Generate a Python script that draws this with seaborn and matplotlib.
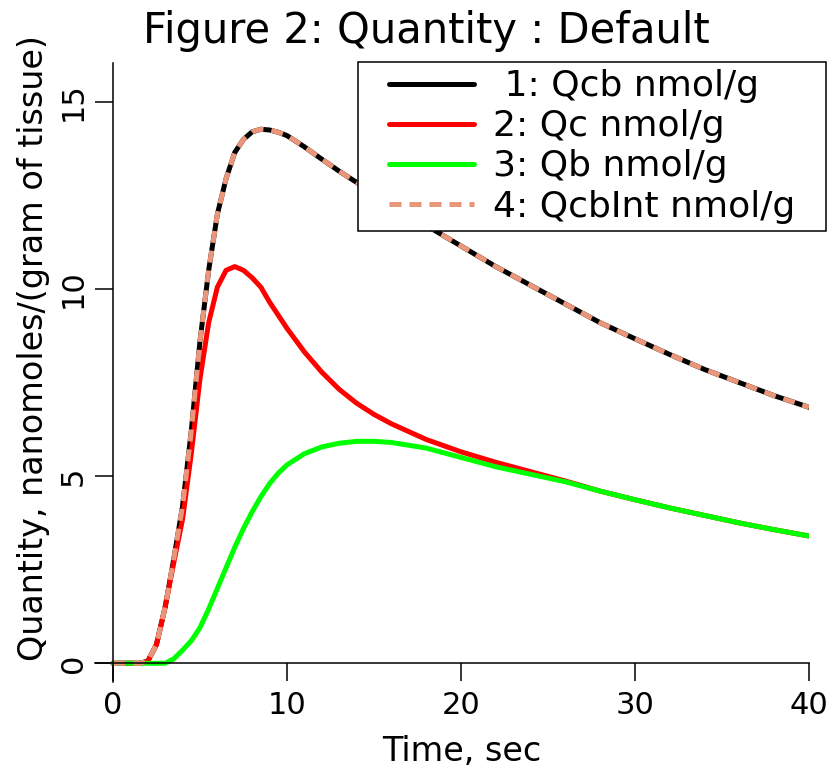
import matplotlib
matplotlib.use("Agg")
import matplotlib.pyplot as plt
from matplotlib.lines import Line2D
from matplotlib.legend_handler import HandlerLine2D
import seaborn as sns
import pandas as pd

# time grid (sec)
time_sec = [0, 1, 1.5, 2, 2.5, 3, 3.5, 4, 4.5, 5, 5.5, 6, 6.5, 7, 7.5, 8, 8.5, 9, 9.5,
            10, 11, 12, 13, 14, 15, 16, 18, 20, 22, 24, 26, 28, 30, 32, 34, 36, 38, 40]

# nmol/g
qcb = [0, 0, 0, 0.05, 0.5, 1.5, 2.8, 4.2, 6.2, 8.6, 10.5, 12.0, 12.95, 13.65, 14.0, 14.2, 14.27, 14.25, 14.19,
       14.1, 13.8, 13.47, 13.15, 12.85, 12.55, 12.25, 11.7, 11.15, 10.6, 10.1, 9.6, 9.1, 8.67, 8.25, 7.85, 7.5, 7.15, 6.84]
qc = [0, 0, 0, 0.05, 0.5, 1.5, 2.7, 3.85, 5.6, 7.6, 9.1, 10.05, 10.5, 10.6, 10.5, 10.3, 10.05, 9.65, 9.3,
      8.95, 8.32, 7.78, 7.32, 6.95, 6.65, 6.4, 5.98, 5.65, 5.37, 5.12, 4.87, 4.6, 4.37, 4.15, 3.95, 3.75, 3.57, 3.4]
qb = [0, 0, 0, 0, 0, 0, 0.12, 0.35, 0.6, 0.95, 1.45, 2.0, 2.55, 3.1, 3.6, 4.05, 4.45, 4.8, 5.08,
      5.3, 5.6, 5.78, 5.88, 5.93, 5.93, 5.9, 5.75, 5.5, 5.25, 5.05, 4.85, 4.6, 4.37, 4.15, 3.95, 3.75, 3.57, 3.4]
qcbint = qcb

series_labels = [" 1: Qcb nmol/g  ", "2: Qc nmol/g  ", "3: Qb nmol/g  ", "4: QcbInt nmol/g  "]
series_colors = ["#000000", "#ff0000", "#00ff00", "#e9967a"]

sns.set_theme(style="white")
plt.rcParams['font.family'] = ['DejaVu Sans']

df = pd.DataFrame({"t": time_sec, "qcb": qcb, "qc": qc, "qb": qb, "qcbint": qcbint})

fig = plt.figure(figsize=(8.3, 7.74), dpi=100)
ax = fig.add_axes([0.1145, 0.1189, 0.8602, 0.7997])

lw = 3.6
sns.lineplot(data=df, x="t", y="qcb", color=series_colors[0], linewidth=lw, label=series_labels[0], ax=ax)
sns.lineplot(data=df, x="t", y="qc", color=series_colors[1], linewidth=lw, label=series_labels[1], ax=ax)
sns.lineplot(data=df, x="t", y="qb", color=series_colors[2], linewidth=lw, label=series_labels[2], ax=ax)
sns.lineplot(data=df, x="t", y="qcbint", color=series_colors[3], linewidth=lw, label=series_labels[3],
             linestyle=(0, (2.4, 1.6)), ax=ax)

ax.set_xlim(-1.03, 40)
ax.set_ylim(-0.5, 16.04)
ax.set_xticks([0, 10, 20, 30, 40])
ax.set_yticks([0, 5, 10, 15])

for side in ["top", "right"]:
    ax.spines[side].set_visible(False)
for side in ["left", "bottom"]:
    ax.spines[side].set_position(("data", 0))
    ax.spines[side].set_linewidth(1.1)
    ax.spines[side].set_color("black")
ax.spines["bottom"].set_bounds(-1.03, 40)
ax.spines["left"].set_bounds(-0.5, 16.04)

ax.tick_params(axis="both", direction="out", length=13, width=1.1, color="black",
               labelsize=22, labelcolor="black", bottom=True, left=True)
ax.tick_params(axis="x", pad=7)
ax.tick_params(axis="y", pad=5)
plt.setp(ax.get_yticklabels(), rotation=90, va="center", ha="right")

ax.set_xlabel("Time, sec", fontsize=24, color="black")
ax.set_ylabel("Quantity, nanomoles/(gram of tissue)", fontsize=24, color="black")
ax.xaxis.set_label_coords(0.514, -0.085)
ax.yaxis.set_label_coords(-0.063, 0.54)

fig.text(0.514, 1 - 31 / 774, "Figure 2: Quantity : Default", fontsize=30,
         ha="center", va="center", color="black")

leg = ax.legend(loc="upper right", bbox_to_anchor=(0.995, 0.92), bbox_transform=fig.transFigure,
                borderaxespad=0, fontsize=26, frameon=True, fancybox=False, framealpha=1,
                edgecolor="black", handlelength=2.99, handletextpad=0.55, labelspacing=0.17,
                borderpad=0.2, labelcolor="black",
                handler_map={Line2D: HandlerLine2D(xpad=0.64)})
leg.get_frame().set_linewidth(1.1)

fig.savefig("out.png", dpi=100)
